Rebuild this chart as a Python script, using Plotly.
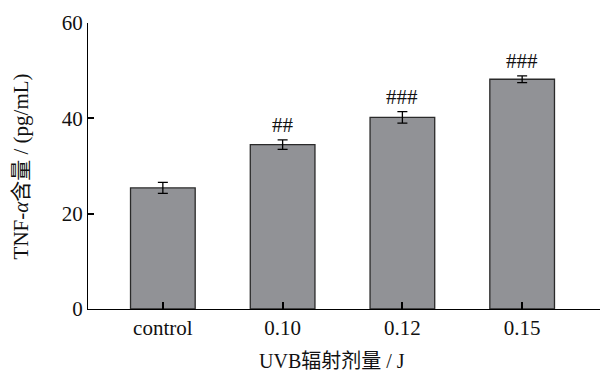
import plotly.graph_objects as go

categories = ["control", "0.10", "0.12", "0.15"]
values = [25.4, 34.5, 40.2, 48.2]
errors = [1.15, 1.0, 1.2, 0.7]
marks = ["", "##", "###", "###"]
y_ticks = [0, 20, 40, 60]

FONT = "Liberation Serif, Times New Roman, Noto Sans CJK SC, serif"
FS = 21

fig = go.Figure()
fig.add_trace(go.Bar(
    x=categories, y=values, width=0.54,
    marker=dict(color="#919296", line=dict(color="#2a2a2a", width=1.3)),
    error_y=dict(type="data", array=errors, visible=True, color="#000000", thickness=1.3, width=5),
))

for i, (v, e, m) in enumerate(zip(values, errors, marks)):
    if m:
        fig.add_annotation(x=i, y=v + e, text=m, showarrow=False, yanchor="bottom",
                           yshift=1, font=dict(family=FONT, size=FS, color="#111"))

fig.add_annotation(xref="paper", yref="paper", x=0.477, y=-0.135, yanchor="top",
                   text="UVB辐射剂量 / J", showarrow=False,
                   font=dict(family=FONT, size=20, color="#111"))
fig.add_annotation(xref="paper", yref="paper", x=-0.13, y=0.5, xanchor="center",
                   text="TNF-<i>α</i>含量 / (pg/mL)", textangle=-90, showarrow=False,
                   font=dict(family=FONT, size=FS, color="#111"))

fig.update_layout(
    width=600, height=375,
    margin=dict(l=88, r=0, t=23, b=66),
    paper_bgcolor="white", plot_bgcolor="white",
    showlegend=False,
    font=dict(family=FONT, size=FS, color="#111"),
    xaxis=dict(type="category", range=[-0.625, 3.65], showline=True, linecolor="#000", linewidth=1.3,
               ticks="inside", ticklen=7, tickcolor="#000", tickwidth=1.5,
               layer="above traces",
               showgrid=False, zeroline=False, fixedrange=True,
               tickfont=dict(family=FONT, size=FS, color="#111")),
    yaxis=dict(range=[0, 60], tickvals=y_ticks, showline=True, linecolor="#000", linewidth=1.3,
               ticks="inside", ticklen=6, tickcolor="#000", tickwidth=1.5, layer="above traces",
               showgrid=False, zeroline=False, fixedrange=True,
               tickfont=dict(family=FONT, size=FS, color="#111")),
)

fig.write_html("out.html", config={"displayModeBar": False},
               post_script="document.body.style.margin='0';document.body.style.padding='0';")
